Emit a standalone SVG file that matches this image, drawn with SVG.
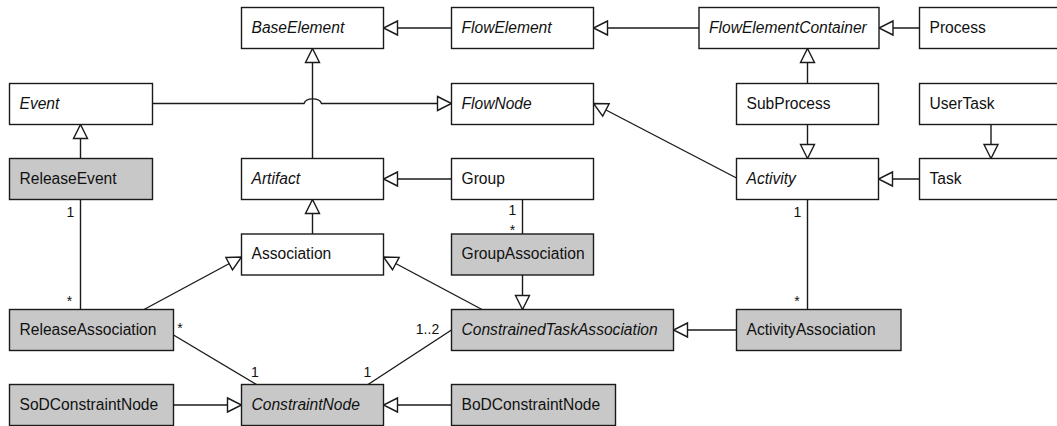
<svg xmlns="http://www.w3.org/2000/svg" width="1057" height="426" viewBox="0 0 1057 426">
<style>
.box{fill:#fff;stroke:#1a1a1a;stroke-width:1.4}
.g{fill:#c8c8c8}
.t{font-family:"Liberation Sans",Arial,sans-serif;font-size:15.6px;fill:#111}
.i{font-style:italic}
.m{font-family:"Liberation Sans",Arial,sans-serif;font-size:14px;fill:#111;text-anchor:middle}
.c{fill:none;stroke:#1a1a1a;stroke-width:1.4}
.gen{marker-end:url(#tri)}
</style>
<defs>
<marker id="tri" viewBox="0 0 14 14" markerWidth="14" markerHeight="14" refX="14" refY="7" orient="auto" markerUnits="userSpaceOnUse" overflow="visible">
<path d="M0,0 L14,7 L0,14 Z" fill="#fff" stroke="#1a1a1a" stroke-width="1.4"/>
</marker>
</defs>
<rect width="1057" height="426" fill="#fff"/>
<g id="connectors">
<path class="c gen" d="M451.5,28 H383.5"/>
<path class="c gen" d="M699,28 H593.5"/>
<path class="c gen" d="M919.5,28 H879"/>
<path class="c gen" d="M807.5,83.5 V48.5"/>
<path class="c gen" d="M152.5,103.5 H304 A9,6 0 0 1 321.5,103.5 H451.5"/>
<path class="c gen" d="M736.5,178 L593.5,103.5"/>
<path class="c gen" d="M312.5,158.5 V48.5"/>
<path class="c gen" d="M80.5,158.5 V124.5"/>
<path class="c gen" d="M451.5,179 H383.5"/>
<path class="c gen" d="M312.5,234 V199.5"/>
<path class="c gen" d="M991,124.5 V158.5"/>
<path class="c gen" d="M807.5,124.5 V158.5"/>
<path class="c gen" d="M919.5,179 H878.5"/>
<path class="c" d="M807.5,199.5 V309.5"/>
<path class="c" d="M80.5,199.5 V309.5"/>
<path class="c" d="M522.5,199.5 V234"/>
<path class="c gen" d="M522.5,275 V309.5"/>
<path class="c gen" d="M144,309.5 L241.5,257"/>
<path class="c gen" d="M482,309.5 L383.5,257"/>
<path class="c" d="M173.5,335 L256.5,384.5"/>
<path class="c" d="M451.5,330 L368,384.5"/>
<path class="c gen" d="M173.5,405 H241.5"/>
<path class="c gen" d="M451.5,405 H383.5"/>
<path class="c gen" d="M736.5,330 H673.5"/>
<text class="m" x="70.5" y="217">1</text>
<text class="m" x="69.5" y="305.5">*</text>
<text class="m" x="512.5" y="214.5">1</text>
<text class="m" x="512.5" y="235">*</text>
<text class="m" x="797.5" y="216.5">1</text>
<text class="m" x="797" y="306">*</text>
<text class="m" x="180" y="333">*</text>
<text class="m" x="255" y="377">1</text>
<text class="m" x="427.5" y="333.5">1..2</text>
<text class="m" x="367.5" y="377">1</text>
</g>
<g id="BaseElement"><rect class="box" x="241.5" y="7.5" width="142" height="41"/><text class="t i" x="251.5" y="32.5">BaseElement</text></g>
<g id="FlowElement"><rect class="box" x="451.5" y="7.5" width="142" height="41"/><text class="t i" x="461.5" y="32.5">FlowElement</text></g>
<g id="FlowElementContainer"><rect class="box" x="699" y="7.5" width="180" height="41"/><text class="t i" x="709" y="32.5">FlowElementContainer</text></g>
<g id="Process"><rect class="box" x="919.5" y="7.5" width="145" height="41"/><text class="t" x="929.5" y="32.5">Process</text></g>
<g id="Event"><rect class="box" x="9.5" y="83.5" width="143" height="41"/><text class="t i" x="19.5" y="108.5">Event</text></g>
<g id="FlowNode"><rect class="box" x="451.5" y="83.5" width="142" height="41"/><text class="t i" x="461.5" y="108.5">FlowNode</text></g>
<g id="SubProcess"><rect class="box" x="736.5" y="83.5" width="142" height="41"/><text class="t" x="746.5" y="108.5">SubProcess</text></g>
<g id="UserTask"><rect class="box" x="919.5" y="83.5" width="145" height="41"/><text class="t" x="929.5" y="108.5">UserTask</text></g>
<g id="ReleaseEvent"><rect class="box g" x="9.5" y="158.5" width="143" height="41"/><text class="t" x="19.5" y="183.5">ReleaseEvent</text></g>
<g id="Artifact"><rect class="box" x="241.5" y="158.5" width="142" height="41"/><text class="t i" x="251.5" y="183.5">Artifact</text></g>
<g id="Group"><rect class="box" x="451.5" y="158.5" width="142" height="41"/><text class="t" x="461.5" y="183.5">Group</text></g>
<g id="Activity"><rect class="box" x="736.5" y="158.5" width="142" height="41"/><text class="t i" x="746.5" y="183.5">Activity</text></g>
<g id="Task"><rect class="box" x="919.5" y="158.5" width="145" height="41"/><text class="t" x="929.5" y="183.5">Task</text></g>
<g id="Association"><rect class="box" x="241.5" y="234" width="142" height="41"/><text class="t" x="251.5" y="259">Association</text></g>
<g id="GroupAssociation"><rect class="box g" x="451.5" y="234" width="142" height="41"/><text class="t" x="461.5" y="259">GroupAssociation</text></g>
<g id="ReleaseAssociation"><rect class="box g" x="9.5" y="309.5" width="164" height="41"/><text class="t" x="19.5" y="334.5">ReleaseAssociation</text></g>
<g id="ConstrainedTaskAssociation"><rect class="box g" x="451.5" y="309.5" width="222" height="41"/><text class="t i" x="461.5" y="334.5">ConstrainedTaskAssociation</text></g>
<g id="ActivityAssociation"><rect class="box g" x="736.5" y="309.5" width="164.5" height="41"/><text class="t" x="746.5" y="334.5">ActivityAssociation</text></g>
<g id="SoDConstraintNode"><rect class="box g" x="9.5" y="384.5" width="164" height="41"/><text class="t" x="19.5" y="409.5">SoDConstraintNode</text></g>
<g id="ConstraintNode"><rect class="box g" x="241.5" y="384.5" width="142" height="41"/><text class="t i" x="251.5" y="409.5">ConstraintNode</text></g>
<g id="BoDConstraintNode"><rect class="box g" x="451.5" y="384.5" width="164" height="41"/><text class="t" x="461.5" y="409.5">BoDConstraintNode</text></g>
</svg>
